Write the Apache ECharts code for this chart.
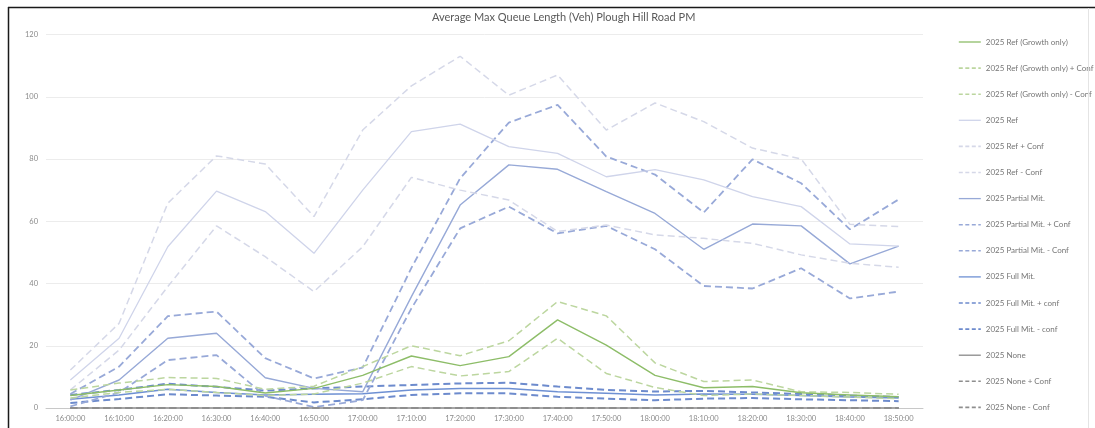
<!DOCTYPE html>
<html>
<head>
<meta charset="utf-8">
<script src="https://cdn.jsdelivr.net/npm/echarts@6/dist/echarts.min.js"></script>
<style>
html,body{margin:0;padding:0;background:#fff;}
#chart{width:1095px;height:428px;}
</style>
</head>
<body>
<div id="chart"></div>
<script>
var categories = ['16:00:00','16:10:00','16:20:00','16:30:00','16:40:00','16:50:00','17:00:00','17:10:00','17:20:00','17:30:00','17:40:00','17:50:00','18:00:00','18:10:00','18:20:00','18:30:00','18:40:00','18:50:00'];
var yTicks = [0, 20, 40, 60, 80, 100, 120];

var growth   = [4.0, 5.8, 7.5, 6.9, 4.8, 6.3, 10.5, 16.7, 13.6, 16.5, 28.3, 20.2, 10.5, 6.5, 6.9, 4.9, 4.2, 3.6];
var growthHi = [5.8, 8.0, 9.8, 9.5, 6.0, 7.0, 13.3, 20.0, 16.8, 21.6, 34.2, 29.6, 14.5, 8.5, 9.0, 5.2, 5.0, 4.4];
var growthLo = [3.2, 5.0, 6.0, 5.0, 4.0, 4.5, 8.0, 13.3, 10.3, 11.7, 22.4, 11.1, 6.6, 4.0, 4.5, 4.0, 3.5, 3.0];

var ref   = [9.0, 22.4, 51.8, 69.7, 63.1, 49.7, 70.0, 88.8, 91.2, 84.0, 81.8, 74.3, 76.6, 73.3, 67.9, 64.7, 52.7, 52.0];
var refHi = [12.2, 27.2, 65.8, 81.0, 78.4, 61.5, 89.3, 103.5, 113.0, 100.5, 107.0, 89.3, 98.0, 92.0, 83.5, 80.0, 59.0, 58.3];
var refLo = [5.8, 18.6, 39.0, 58.5, 48.6, 37.4, 51.8, 74.1, 70.0, 66.8, 56.7, 58.8, 55.6, 54.5, 52.9, 49.2, 46.5, 45.2];

var partial   = [2.5, 9.0, 22.4, 24.0, 9.7, 6.3, 5.2, 35.8, 65.2, 78.1, 76.7, 69.5, 62.5, 51.0, 59.1, 58.5, 46.3, 52.0];
var partialHi = [4.5, 13.3, 29.5, 31.0, 16.0, 9.5, 13.0, 45.0, 73.8, 91.7, 97.4, 80.8, 75.0, 62.8, 79.9, 72.2, 57.4, 67.0];
var partialLo = [0.5, 5.0, 15.4, 17.0, 3.9, 0.3, 2.5, 32.0, 57.7, 64.7, 56.1, 58.5, 51.0, 39.2, 38.4, 44.9, 35.2, 37.4];

var full   = [2.8, 4.2, 6.0, 5.0, 4.2, 4.4, 4.6, 5.8, 6.3, 6.3, 5.2, 4.7, 4.2, 4.5, 4.4, 4.0, 3.5, 3.2];
var fullHi = [4.2, 5.8, 7.8, 6.8, 5.6, 6.3, 6.9, 7.4, 7.9, 8.1, 6.9, 5.8, 5.3, 5.5, 5.0, 4.5, 4.0, 3.5];
var fullLo = [1.6, 2.9, 4.4, 4.0, 3.6, 1.8, 2.8, 4.2, 4.7, 4.7, 3.6, 3.0, 2.5, 3.0, 3.2, 2.8, 2.5, 2.2];

var none   = [0, 0, 0, 0, 0, 0, 0, 0, 0, 0, 0, 0, 0, 0, 0, 0, 0, 0];
var noneHi = [0, 0, 0, 0, 0, 0, 0, 0, 0, 0, 0, 0, 0, 0, 0, 0, 0, 0];
var noneLo = [0, 0, 0, 0, 0, 0, 0, 0, 0, 0, 0, 0, 0, 0, 0, 0, 0, 0];

var seriesNames = [
  '2025 Ref (Growth only)', '2025 Ref (Growth only) + Conf', '2025 Ref (Growth only) - Conf',
  '2025 Ref', '2025 Ref + Conf', '2025 Ref - Conf',
  '2025 Partial Mit.', '2025 Partial Mit. + Conf', '2025 Partial Mit. - Conf',
  '2025 Full Mit.', '2025 Full Mit. + conf', '2025 Full Mit. - conf',
  '2025 None', '2025 None + Conf', '2025 None - Conf'
];
var seriesData = [growth, growthHi, growthLo, ref, refHi, refLo, partial, partialHi, partialLo, full, fullHi, fullLo, none, noneHi, noneLo];

var styles = [
  {c:'#8dbd68', w:1.4, d:false}, {c:'#bcd69f', w:1.5, d:true}, {c:'#bcd69f', w:1.5, d:true},
  {c:'#cfd4ea', w:1.3, d:false}, {c:'#d5d8e8', w:1.5, d:true}, {c:'#d5d8e8', w:1.5, d:true},
  {c:'#97a9d7', w:1.4, d:false}, {c:'#98a9d8', w:1.8, d:true}, {c:'#98a9d8', w:1.8, d:true},
  {c:'#6e90d3', w:1.5, d:false}, {c:'#6d8bcd', w:2.0, d:true}, {c:'#6d8bcd', w:2.0, d:true},
  {c:'#8a8a8a', w:1.5, d:false}, {c:'#8e8e8e', w:2.0, d:true}, {c:'#8e8e8e', w:2.0, d:true}
];

var series = seriesNames.map(function (name, i) {
  var s = styles[i];
  return {
    name: name,
    type: 'line',
    data: seriesData[i],
    symbol: 'none',
    showSymbol: false,
    z: 20 - i,
    lineStyle: {color: s.c, width: s.w, type: s.d ? [7, 4] : 'solid'},
    itemStyle: {color: s.c, opacity: 0}
  };
});
series.slice(12).forEach(function (s) { s.z = 30; });

var legendData = seriesNames.map(function (name, i) {
  var s = styles[i];
  return {
    name: name,
    itemStyle: {opacity: 0, color: s.c},
    lineStyle: {color: s.c, width: s.d ? 1.6 : 1.3, type: s.d ? [4, 2.5] : 'solid'}
  };
});

var chart = echarts.init(document.getElementById('chart'), null, {renderer: 'canvas'});
chart.setOption({
  animation: false,
  backgroundColor: '#ffffff',
  title: {
    text: 'Average Max Queue Length (Veh) Plough Hill Road PM',
    left: 427, top: 7,
    textStyle: {fontFamily: 'Lato', fontSize: 11, fontWeight: 'normal', color: '#595959'}
  },
  legend: {
    orient: 'vertical',
    left: 953, top: 33,
    itemWidth: 22, itemHeight: 10, itemGap: 18.1,
    textStyle: {fontFamily: 'Lato', fontSize: 8, color: '#767676'},
    data: legendData
  },
  grid: {left: 46, right: 172, top: 34.5, bottom: 20, containLabel: false},
  xAxis: {
    type: 'category',
    data: categories,
    boundaryGap: true,
    axisLine: {lineStyle: {color: '#c8c8c8', width: 1}},
    axisTick: {show: false},
    axisLabel: {fontFamily: 'Lato', fontSize: 7.5, color: '#8a8a8a', margin: 7}
  },
  yAxis: {
    type: 'value',
    min: yTicks[0], max: yTicks[yTicks.length - 1], interval: 20,
    axisLine: {show: false},
    axisTick: {show: false},
    splitLine: {lineStyle: {color: '#ececec', width: 1}},
    axisLabel: {fontFamily: 'Lato', fontSize: 7.5, color: '#8a8a8a', margin: 8}
  },
  graphic: [
    {type: 'line', shape: {x1: 8, y1: 7.5, x2: 1095, y2: 7.5}, style: {stroke: '#1a1a1a', lineWidth: 1.5}, z: 100},
    {type: 'line', shape: {x1: 8.5, y1: 7, x2: 8.5, y2: 428}, style: {stroke: '#1a1a1a', lineWidth: 1.5}, z: 100},
    {type: 'line', shape: {x1: 1088.5, y1: 8, x2: 1088.5, y2: 428}, style: {stroke: '#e4e4e4', lineWidth: 1}, z: 100}
  ],
  series: series
});
</script>
</body>
</html>
